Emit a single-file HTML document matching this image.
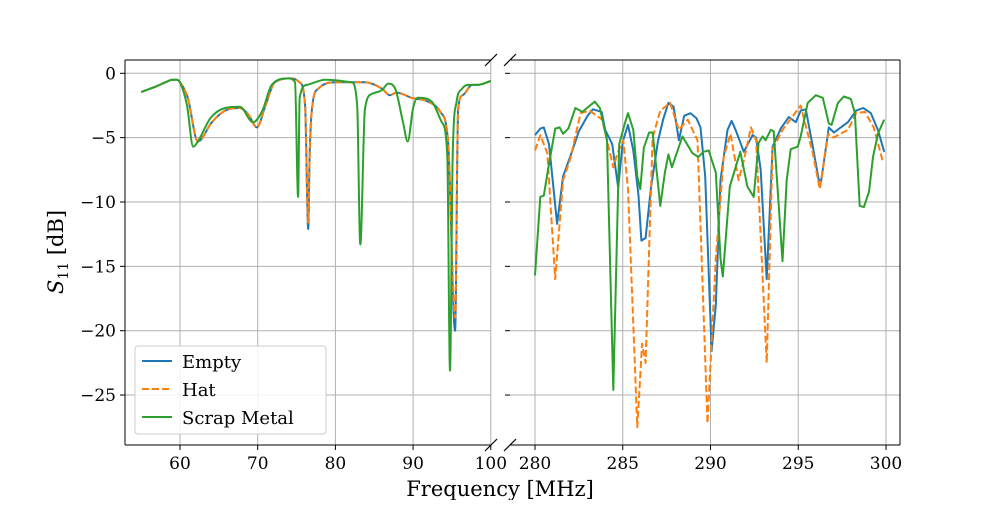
<!DOCTYPE html>
<html><head><meta charset="utf-8"><style>
body{margin:0;background:#fff}
svg{font-family:"DejaVu Serif","Liberation Serif",serif}
</style></head><body>
<svg id="chart" width="1000" height="500" viewBox="0 0 1000 500">
<defs>
<clipPath id="cl"><rect x="125" y="60" width="366" height="385"/></clipPath>
<clipPath id="cr"><rect x="510" y="60" width="390" height="385"/></clipPath>
</defs>
<g id="gridL"></g>
<g id="gridR"></g>
<g id="seriesL" clip-path="url(#cl)"></g>
<g id="seriesR" clip-path="url(#cr)"></g>
<g id="axes"></g>
<text x="500" y="496" text-anchor="middle" font-size="21">Frequency [MHz]</text>
<text transform="translate(63,252) rotate(-90)" text-anchor="middle" font-size="21"><tspan font-style="italic">S</tspan><tspan font-size="14" dy="5">11</tspan><tspan dy="-5"> [dB]</tspan></text>
<g>
<rect x="135" y="346" width="191" height="88" rx="3" fill="#fff" fill-opacity="0.85" stroke="#ccc"/>
<line x1="142" y1="361" x2="172" y2="361" stroke="#1f77b4" stroke-width="2"/>
<text x="182" y="368" font-size="18">Empty</text>
<line x1="142" y1="389" x2="172" y2="389" stroke="#ff7f0e" stroke-width="2" stroke-dasharray="7,3"/>
<text x="182" y="396" font-size="18">Hat</text>
<line x1="142" y1="417" x2="172" y2="417" stroke="#2ca02c" stroke-width="2"/>
<text x="182" y="424" font-size="18">Scrap Metal</text>
</g>
</svg>
<script>
const leftFreq_empty=[55,57,58.3,59,59.6,60,61,62.3,64.1,65.8,67.7,68.8,69.9,71,72.2,74.4,75.4,76.1,76.5,76.7,77.1,77.8,80,83.8,86,87,87.9,89.8,91.9,93.5,94.5,95.4,95.8,96.4,97.6,98.3,100];
const leftEmpty=[-1.45,-1.0,-0.65,-0.5,-0.5,-0.7,-1.9,-5.3,-3.8,-2.9,-2.7,-3.2,-4.2,-2.5,-0.7,-0.4,-0.7,-2.5,-12.1,-6,-2.2,-1.2,-0.7,-0.7,-1.2,-1.7,-1.5,-1.9,-2.2,-3.0,-5.3,-20,-2.7,-1.7,-0.9,-0.9,-0.6];
const leftHat=[-1.45,-1.0,-0.65,-0.5,-0.5,-0.7,-1.9,-5.3,-3.8,-2.9,-2.7,-3.2,-4.2,-2.5,-0.7,-0.4,-0.7,-2.5,-11.6,-6,-2.2,-1.2,-0.7,-0.7,-1.2,-1.7,-1.5,-1.9,-2.2,-3.0,-5.3,-19,-2.7,-1.7,-0.9,-0.9,-0.6];
const leftFreq_scrap=[55,57,58.3,59,59.6,60,60.9,61.7,62.3,63.9,65.8,67.7,69.4,70.6,71.8,73.9,74.8,75.2,75.4,76.3,78.7,82.1,82.8,83.2,83.8,84.7,86,86.8,87.7,88.7,89.3,90,90.6,92.4,93.7,94.4,94.75,95.1,95.6,96.3,97.1,98.3,100];
const leftScrap=[-1.45,-1.0,-0.65,-0.5,-0.5,-0.7,-2.5,-5.7,-5.3,-3.5,-2.7,-2.6,-3.8,-2.9,-0.9,-0.4,-0.7,-9.6,-1.9,-0.9,-0.5,-0.7,-2.5,-13.3,-2.8,-1.6,-1.3,-0.8,-1.2,-3.8,-5.3,-2.7,-1.9,-2.2,-3.8,-6.4,-23.1,-6.4,-2.2,-1.2,-0.9,-0.9,-0.6];
const rightFreq_empty=[280,280.3,280.5,280.8,281.26,281.6,282,282.5,283,283.3,283.8,284.0,284.4,284.74,285.0,285.3,285.6,285.9,286.06,286.3,286.6,287,287.3,287.6,287.9,288.2,288.5,288.86,289.2,289.43,289.7,290.06,290.3,290.57,290.97,291.2,291.43,291.9,292.4,292.6,292.86,293.2,293.54,294,294.46,294.86,295.14,295.43,295.83,296.17,296.3,296.74,297.03,297.83,298.3,298.7,299.14,299.54,299.9];
const rightEmpty=[-4.8,-4.3,-4.2,-5.5,-11.7,-8,-6.5,-4.5,-3.3,-2.8,-3.0,-4.4,-5.5,-8.9,-5.3,-4.0,-6,-9.5,-13.0,-12.8,-9,-5.3,-3.6,-2.3,-2.6,-5.2,-3.3,-3.1,-3.5,-4.2,-8,-21.6,-18,-8.3,-4.4,-3.7,-4.4,-6.1,-4.8,-5.0,-7.5,-16,-5.7,-4.3,-3.4,-3.8,-2.9,-2.8,-5.7,-8.3,-8.4,-4.2,-4.6,-3.8,-2.9,-2.7,-3.1,-4.4,-6.1];
const rightFreq_hat=[280,280.3,280.7,281.15,281.6,282,282.6,283.1,283.83,284.46,284.7,285.03,285.3,285.83,286.1,286.3,286.7,287.14,287.7,288.2,288.7,289.26,289.83,290.3,290.75,291.14,291.6,291.9,292.3,292.6,293.2,293.54,294.1,294.6,295.14,295.3,295.83,296.23,296.7,297,297.83,298.3,298.8,299.3,299.83];
const rightHat=[-6.0,-4.8,-6.2,-16,-8.3,-6.7,-3.1,-2.9,-3.6,-7.3,-6.2,-5.2,-9,-27.5,-21,-22.5,-5.0,-2.9,-2.3,-4.4,-3.6,-5.2,-27.2,-14.4,-6.5,-4.7,-8.3,-6.8,-4.2,-5.2,-22.5,-5.9,-4.4,-3.5,-2.5,-3.4,-6.2,-9.0,-4.7,-5.0,-4.4,-3.1,-3.0,-4.2,-6.9];
const rightFreq_scrap=[280,280.3,280.5,280.74,281.15,281.4,281.6,281.9,282.3,282.7,283.4,283.7,284.1,284.46,284.8,285.14,285.3,285.6,285.83,286,286.2,286.5,286.7,287.14,287.4,287.6,287.8,288.4,288.97,289.3,289.6,289.9,290.3,290.57,290.7,291.1,291.7,292.1,292.46,292.74,292.97,293.14,293.43,293.6,294.1,294.34,294.57,294.97,295.14,295.54,296,296.4,296.74,296.9,297.26,297.6,298,298.23,298.5,298.74,299.03,299.26,299.54,299.9];
const rightScrap=[-15.7,-9.6,-9.5,-7.5,-4.3,-4.2,-4.7,-4.3,-2.7,-3.0,-2.2,-2.7,-5.2,-24.6,-5.5,-3.8,-3.1,-4.4,-8.0,-9.0,-5.8,-4.6,-4.6,-10.3,-7.7,-6.3,-7.3,-4.9,-6.2,-6.5,-6.1,-6.0,-7.7,-14.4,-15.8,-8.8,-6.1,-8.8,-9.6,-5.4,-4.9,-5.2,-4.4,-4.5,-14.6,-8.3,-5.9,-5.7,-4.9,-2.3,-1.7,-1.9,-3.9,-4.0,-2.3,-1.8,-2.0,-3.1,-10.3,-10.4,-9.2,-6.5,-4.7,-3.6];
const leftXTicks=[60,70,80,90,100];
const rightXTicks=[280,285,290,295,300];
const yTicks=[0,-5,-10,-15,-20,-25];

const NS='http://www.w3.org/2000/svg';
const TOP=60,BOT=445;
const yS=v=>73.3-(v)*12.87;
const xL=f=>180+(f-60)*7.77;
const xR=f=>535+(f-280)*17.55;
const LX0=125,LX1=491,RX0=510,RX1=900;
function mk(tag,attrs,parent){const e=document.createElementNS(NS,tag);for(const k in attrs)e.setAttribute(k,attrs[k]);parent.appendChild(e);return e;}
const gL=document.getElementById('gridL'),gR=document.getElementById('gridR'),ax=document.getElementById('axes');
const sL=document.getElementById('seriesL'),sR=document.getElementById('seriesR');
const GC='#b0b0b0';
leftXTicks.forEach(t=>{const l=mk('line',{x1:xL(t),x2:xL(t),y1:TOP,y2:BOT,stroke:GC,'stroke-width':1},gL);


const tk=mk('line',{x1:xL(t),x2:xL(t),y1:BOT,y2:BOT+5,stroke:'#000'},ax);


const tx=mk('text',{x:xL(t),y:BOT+24,'text-anchor':'middle','font-size':17},ax);tx.textContent=t;

});
rightXTicks.forEach(t=>{const l=mk('line',{x1:xR(t),x2:xR(t),y1:TOP,y2:BOT,stroke:GC,'stroke-width':1},gR);


const tk=mk('line',{x1:xR(t),x2:xR(t),y1:BOT,y2:BOT+5,stroke:'#000'},ax);


const tx=mk('text',{x:xR(t),y:BOT+24,'text-anchor':'middle','font-size':17},ax);tx.textContent=t;

});
yTicks.forEach(t=>{const y=yS(t);
const a=mk('line',{x1:LX0,x2:LX1,y1:y,y2:y,stroke:GC,'stroke-width':1},gL);


const b=mk('line',{x1:RX0,x2:RX1,y1:y,y2:y,stroke:GC,'stroke-width':1},gR);


const tk=mk('line',{x1:LX0-5,x2:LX0,y1:y,y2:y,stroke:'#000'},ax);


const tk2=mk('line',{x1:RX0-5,x2:RX0,y1:y,y2:y,stroke:'#000'},ax);


const tx=mk('text',{x:LX0-9,y:y+6,'text-anchor':'end','font-size':17},ax);tx.textContent=(t<0?'\u2212'+(-t):t);

});
function linearD(P){return P.map((p,i)=>(i?'L':'M')+p[0].toFixed(1)+','+p[1].toFixed(1)).join('');}
function monoD(P){const n=P.length;if(n<3)return linearD(P);
const d=[],m=new Array(n);for(let i=0;i<n-1;i++)d.push((P[i+1][1]-P[i][1])/(P[i+1][0]-P[i][0]));
m[0]=d[0];m[n-1]=d[n-2];for(let i=1;i<n-1;i++){m[i]=(d[i-1]*d[i]<=0)?0:(d[i-1]+d[i])/2;}
for(let i=0;i<n-1;i++){if(d[i]===0){m[i]=0;m[i+1]=0;continue;}const a=m[i]/d[i],b=m[i+1]/d[i],s=a*a+b*b;if(s>9){const t=3/Math.sqrt(s);m[i]=t*a*d[i];m[i+1]=t*b*d[i];}}
let s='M'+P[0][0].toFixed(1)+','+P[0][1].toFixed(1);
for(let i=0;i<n-1;i++){const h=(P[i+1][0]-P[i][0])/3;s+='C'+(P[i][0]+h).toFixed(1)+','+(P[i][1]+m[i]*h).toFixed(1)+' '+(P[i+1][0]-h).toFixed(1)+','+(P[i+1][1]-m[i+1]*h).toFixed(1)+' '+P[i+1][0].toFixed(1)+','+P[i+1][1].toFixed(1);}
return s;}
function path(xs,ys,xf,col,dash,parent,name,smooth){const P=xs.map((f,i)=>[xf(f),yS(ys[i])]);
const p=mk('path',{d:smooth?monoD(P):linearD(P),fill:'none',stroke:col,'stroke-width':2,'stroke-linejoin':'round'},parent);if(dash)p.setAttribute('stroke-dasharray','7,3');

}
path(leftFreq_empty,leftEmpty,xL,'#1f77b4',false,sL,'left-empty-line',true);
path(leftFreq_empty,leftHat,xL,'#ff7f0e',true,sL,'left-hat-line',true);
path(leftFreq_scrap,leftScrap,xL,'#2ca02c',false,sL,'left-scrap-line',true);
path(rightFreq_empty,rightEmpty,xR,'#1f77b4',false,sR,'right-empty-line',false);
path(rightFreq_hat,rightHat,xR,'#ff7f0e',true,sR,'right-hat-line',false);
path(rightFreq_scrap,rightScrap,xR,'#2ca02c',false,sR,'right-scrap-line',false);
[[LX0,TOP,LX0,BOT],[LX0,TOP,LX1,TOP],[LX0,BOT,LX1,BOT],[RX0,TOP,RX1,TOP],[RX0,BOT,RX1,BOT],[RX1,TOP,RX1,BOT]].forEach(s=>{const l=mk('line',{x1:s[0],y1:s[1],x2:s[2],y2:s[3],stroke:'#000','stroke-width':1},ax);

});
[TOP,BOT].forEach(y=>{[LX1,RX0].forEach(x=>{const l=mk('line',{x1:x-6,y1:y+6,x2:x+6,y2:y-6,stroke:'#000','stroke-width':1.2},ax);

});});
</script>
</body></html>
